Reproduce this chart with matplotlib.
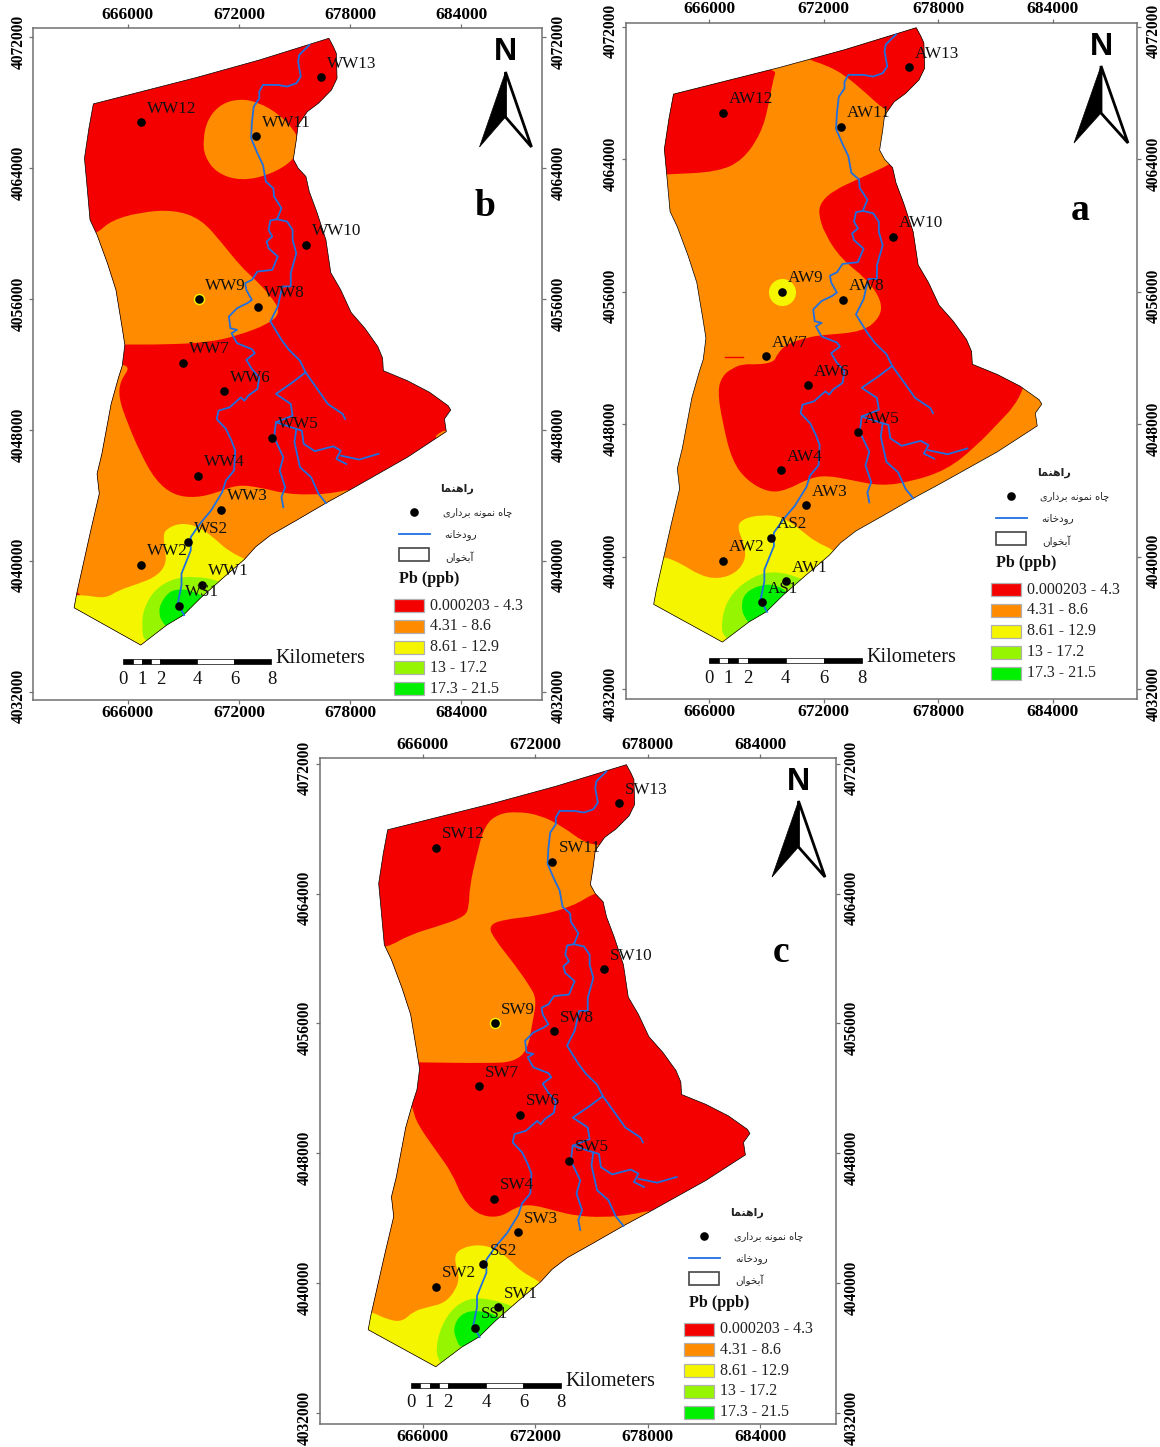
import matplotlib
matplotlib.use('Agg')
import matplotlib.pyplot as plt
from matplotlib.patches import PathPatch, Polygon, Rectangle
from matplotlib.path import Path
from matplotlib.transforms import Affine2D

W, H = 1160, 1447
SERIF = 'Liberation Serif'

# class colours and legend text
class_labels = ['0.000203 - 4.3', '4.31 - 8.6', '8.61 - 12.9', '13 - 17.2', '17.3 - 21.5']
RED, ORANGE, YELLOW, LIME, GREEN = '#f40000', '#ff8c00', '#f5f500', '#96f500', '#00f000'
class_colors = [RED, ORANGE, YELLOW, LIME, GREEN]

# study area boundary, km (easting, northing)
outline_e = [676.86, 677.10, 677.26, 677.30, 677.00, 676.30, 675.70, 675.20, 675.10, 674.94, 675.20, 675.62,
             675.80, 676.20, 676.70, 676.96, 677.50, 678.06, 678.80, 679.50, 679.76, 679.80, 681.10, 682.30,
             683.30, 683.44, 683.10, 683.20, 681.10, 678.10, 676.70, 675.10, 673.70, 672.90, 672.30, 671.10,
             669.90, 669.00, 668.10, 666.70, 663.10, 663.24, 663.60, 664.00, 664.46, 664.34, 664.60, 665.10,
             665.50, 665.70, 665.84, 665.70, 665.36, 664.90, 664.34, 663.96, 663.80, 663.66, 663.90, 664.14,
             669.70, 673.10]
outline_n = [4071.94, 4071.43, 4071.02, 4069.49, 4068.78, 4067.97, 4067.46, 4066.64, 4065.73, 4064.55, 4064.00, 4063.49,
             4062.57, 4061.35, 4059.62, 4057.62, 4056.56, 4055.18, 4054.22, 4053.10, 4052.39, 4051.62, 4051.01, 4050.30,
             4049.48, 4049.22, 4048.67, 4047.90, 4046.33, 4044.40, 4043.53, 4042.47, 4041.56, 4040.85, 4040.09, 4038.91,
             4037.70, 4036.68, 4036.07, 4034.85, 4037.13, 4038.00, 4039.83, 4041.86, 4044.10, 4045.32, 4046.54, 4049.59,
             4051.21, 4051.92, 4053.20, 4054.22, 4056.56, 4058.19, 4059.92, 4060.84, 4062.88, 4064.61, 4066.44, 4067.93,
             4069.54, 4070.61]

# rivers, km
river_main = [(675.80, 4071.53), (675.26, 4070.92), (675.20, 4070.51), (675.34, 4069.60), (675.10, 4069.19),
              (674.60, 4068.99), (674.10, 4069.09), (673.30, 4069.09), (673.10, 4068.68), (673.10, 4068.27),
              (672.80, 4067.76), (672.70, 4066.75), (672.66, 4065.83), (673.00, 4064.91), (673.30, 4064.20),
              (673.46, 4063.18), (673.86, 4062.77), (673.90, 4062.26), (674.30, 4061.55), (674.06, 4060.88)]
river_west = [(674.06, 4060.88), (673.70, 4060.80), (673.60, 4060.23), (673.80, 4059.82), (673.50, 4059.52),
              (673.60, 4059.11), (674.10, 4058.60), (673.80, 4057.78), (673.00, 4057.68), (672.70, 4057.17),
              (672.34, 4056.97), (672.40, 4056.56), (672.70, 4055.95), (672.46, 4055.75), (671.90, 4055.44),
              (671.46, 4054.93), (671.54, 4054.22), (671.90, 4054.12), (671.60, 4053.91), (671.90, 4053.30),
              (672.70, 4052.94), (672.86, 4052.69), (672.40, 4052.29), (672.70, 4051.72), (673.10, 4051.21),
              (673.00, 4050.50), (672.50, 4050.09), (672.30, 4049.79), (672.10, 4049.99), (671.50, 4049.38),
              (670.90, 4049.18), (670.80, 4048.67), (671.30, 4048.06), (671.60, 4047.35), (671.80, 4046.74),
              (671.74, 4045.52), (671.30, 4044.91), (671.10, 4044.20), (670.50, 4043.08), (669.90, 4042.27),
              (669.40, 4041.45), (669.40, 4040.64), (668.90, 4039.22), (668.90, 4038.51), (668.70, 4037.39),
              (669.04, 4036.68)]
river_east = [(674.06, 4060.88), (674.60, 4060.74), (674.90, 4060.23), (674.90, 4059.62), (675.10, 4058.80),
              (674.80, 4057.58), (674.80, 4056.77), (674.34, 4056.77), (674.10, 4055.54), (673.70, 4054.63),
              (674.30, 4053.51), (674.70, 4052.90), (675.30, 4052.23), (675.60, 4051.52)]
river_a = [(675.60, 4051.52), (676.30, 4050.40), (676.80, 4049.59), (677.60, 4048.98), (677.74, 4048.67)]
river_b = [(675.60, 4051.52), (674.90, 4050.91), (674.00, 4050.20), (674.80, 4049.59), (674.90, 4048.87),
           (674.00, 4048.47), (673.90, 4047.55), (674.40, 4046.33), (674.20, 4045.52), (674.50, 4044.50),
           (674.30, 4043.89), (674.40, 4043.28)]
river_c = [(674.00, 4048.47), (675.10, 4048.06), (675.00, 4047.25), (675.30, 4045.72), (675.90, 4045.11),
           (676.30, 4044.10), (676.70, 4043.53)]
river_d = [(675.10, 4048.06), (675.40, 4047.96), (675.50, 4047.15), (676.10, 4046.70), (677.10, 4047.00),
           (677.50, 4046.74), (677.26, 4046.23), (677.80, 4045.92)]
river_e = [(677.50, 4046.43), (678.50, 4046.19), (679.54, 4046.54)]
rivers = [river_main, river_west, river_east, river_a, river_b, river_c, river_d, river_e]

# sampling wells, km
well_e = [676.46, 666.72, 672.92, 675.64, 669.84, 673.02, 668.98, 671.20, 673.80, 669.78, 671.06, 669.24, 666.72, 670.02, 668.78]
well_n = [4069.56, 4066.81, 4065.95, 4059.33, 4056.00, 4055.52, 4052.12, 4050.36, 4047.53, 4045.21, 4043.12, 4041.15, 4039.77, 4038.53, 4037.25]
names_a = ['AW13', 'AW12', 'AW11', 'AW10', 'AW9', 'AW8', 'AW7', 'AW6', 'AW5', 'AW4', 'AW3', 'AS2', 'AW2', 'AW1', 'AS1']
names_b = ['WW13', 'WW12', 'WW11', 'WW10', 'WW9', 'WW8', 'WW7', 'WW6', 'WW5', 'WW4', 'WW3', 'WS2', 'WW2', 'WW1', 'WS1']
names_c = ['SW13', 'SW12', 'SW11', 'SW10', 'SW9', 'SW8', 'SW7', 'SW6', 'SW5', 'SW4', 'SW3', 'SS2', 'SW2', 'SW1', 'SS1']

# concentration zones of map b, km
b_orange_top = [(672.10, 4068.25), (673.10, 4068.00), (674.10, 4067.35), (674.95, 4066.40), (675.25, 4065.63), (675.05, 4064.55),
                (673.70, 4063.60), (672.10, 4063.22), (670.80, 4063.70), (670.15, 4064.71), (670.06, 4065.73), (670.30, 4067.00), (671.05, 4067.95)]
b_orange_mid = [(663.70, 4059.78), (664.34, 4060.02), (665.10, 4060.80), (666.70, 4061.32), (668.50, 4061.45), (669.95, 4060.90),
                (671.10, 4059.41), (672.10, 4057.99), (672.90, 4057.17), (673.75, 4056.15), (674.25, 4055.20), (673.65, 4054.50),
                (671.90, 4053.75), (670.30, 4053.35), (668.10, 4053.22), (665.80, 4053.22), (665.10, 4053.22), (664.10, 4056.00)]
b_orange_low = [(665.10, 4052.20), (665.70, 4052.02), (666.10, 4051.78), (665.60, 4051.01), (665.50, 4049.99), (666.00, 4048.37),
                (666.70, 4046.54), (667.50, 4044.91), (668.50, 4044.00), (669.70, 4043.85), (670.90, 4044.20), (671.90, 4044.65),
                (673.10, 4044.50), (674.50, 4044.10), (675.90, 4044.04), (677.10, 4044.14), (678.10, 4044.40), (678.70, 4044.10),
                (679.10, 4042.50), (673.10, 4038.00), (663.10, 4036.00), (662.10, 4044.00)]
b_orange_tip = [(682.50, 4047.50), (682.90, 4047.90), (683.30, 4048.00), (683.30, 4047.30)]
b_yellow = [(667.90, 4041.45), (668.06, 4041.96), (668.90, 4042.33), (669.90, 4042.06), (670.70, 4041.35), (671.50, 4040.54),
            (672.50, 4040.03), (673.50, 4039.20), (669.10, 4033.90), (666.70, 4034.10), (662.70, 4036.80), (662.80, 4037.90),
            (663.70, 4037.90), (664.80, 4037.70), (665.50, 4038.20), (666.50, 4038.57), (667.50, 4039.01), (668.06, 4039.73), (668.04, 4040.64)]
b_lime = [(670.90, 4038.81), (669.70, 4039.05), (668.50, 4038.95), (667.45, 4038.25), (666.85, 4037.08), (666.75, 4035.96),
          (666.90, 4034.90), (669.10, 4034.94), (672.00, 4038.00)]
b_green = [(668.90, 4038.28), (668.25, 4038.15), (667.75, 4037.39), (667.68, 4036.78), (667.85, 4036.25), (668.26, 4035.80),
           (670.30, 4036.80), (670.50, 4037.60), (669.50, 4038.15)]

# zones of map a, km
a_red_nw = [(669.58, 4069.58), (669.35, 4068.77), (669.11, 4067.16), (668.72, 4065.55), (667.77, 4063.94), (666.44, 4063.23),
            (663.85, 4063.09), (663.01, 4063.03), (663.01, 4067.56), (664.15, 4069.58)]
a_red_ne = [(671.01, 4070.08), (672.15, 4069.68), (673.11, 4069.08), (674.25, 4067.97), (675.20, 4066.96), (676.15, 4066.56),
            (678.06, 4069.58), (678.06, 4072.60), (675.01, 4072.60), (671.01, 4071.00)]
a_red_mid = [(675.96, 4063.94), (673.87, 4062.83), (672.53, 4062.12), (671.87, 4061.42), (671.73, 4060.71), (672.06, 4059.50),
             (672.92, 4057.99), (674.25, 4056.78), (675.05, 4055.47), (674.98, 4054.46), (674.06, 4053.58), (671.96, 4053.39),
             (671.20, 4053.25), (670.06, 4052.85), (669.58, 4052.24), (669.39, 4051.74), (668.53, 4051.60), (667.77, 4051.64),
             (667.20, 4051.36), (666.72, 4050.95), (666.44, 4050.05), (666.72, 4048.04), (667.20, 4045.83), (667.96, 4044.62),
             (669.11, 4043.88), (670.06, 4044.02), (671.20, 4044.72), (672.15, 4044.92), (673.49, 4044.62), (675.01, 4044.28),
             (676.53, 4044.52), (678.44, 4045.23), (679.96, 4046.63), (681.30, 4048.24), (681.96, 4049.05), (682.44, 4050.05),
             (682.63, 4050.85), (680.73, 4052.86), (680.73, 4057.90), (677.87, 4065.90)]
a_yellow = [(667.49, 4041.71), (667.68, 4042.25), (668.72, 4042.55), (669.87, 4042.41), (670.82, 4041.61), (671.58, 4040.90),
            (672.57, 4040.40), (673.49, 4039.40), (669.30, 4034.57), (666.72, 4034.17), (662.63, 4036.98), (662.82, 4040.00),
            (663.68, 4040.00), (664.53, 4039.60), (665.49, 4038.89), (666.44, 4038.65), (667.39, 4038.99), (667.92, 4039.80), (667.87, 4040.70)]
a_lime = [(670.91, 4038.69), (669.49, 4039.15), (668.34, 4038.85), (667.15, 4037.79), (666.65, 4036.38), (666.72, 4034.87),
          (669.30, 4034.57), (672.15, 4037.79)]
a_green = [(668.72, 4038.32), (667.90, 4037.85), (667.68, 4037.09), (667.82, 4036.38), (668.25, 4035.80), (670.06, 4036.38),
           (670.25, 4037.79), (669.49, 4038.32)]

# zones of map c, km
c_orange_main = [(675.38, 4063.93), (675.14, 4064.03), (673.99, 4063.21), (672.22, 4062.64), (670.24, 4062.39), (669.50, 4062.00),
                 (669.85, 4061.16), (670.84, 4059.73), (671.72, 4058.29), (672.08, 4057.47), (671.85, 4056.04), (671.60, 4054.35),
                 (670.84, 4053.62), (669.45, 4053.55), (665.76, 4053.60), (665.11, 4053.62), (663.14, 4057.68), (663.14, 4060.75),
                 (664.09, 4060.65), (665.31, 4061.47), (667.09, 4062.08), (668.27, 4062.60), (668.47, 4063.21), (668.51, 4064.44),
                 (668.86, 4066.28), (669.30, 4068.20), (670.05, 4068.92), (671.03, 4069.05), (672.22, 4068.85), (673.40, 4068.18),
                 (674.78, 4067.00), (675.97, 4067.00), (676.17, 4064.03)]
c_orange_low = [(665.31, 4051.28), (665.47, 4050.77), (665.70, 4049.84), (666.69, 4048.20), (667.58, 4046.77), (668.07, 4045.34),
                (668.86, 4044.25), (670.05, 4044.00), (671.03, 4044.72), (671.82, 4044.85), (673.20, 4044.41), (674.19, 4044.15),
                (675.57, 4044.05), (677.15, 4044.21), (678.23, 4044.52), (678.93, 4044.11), (674.19, 4039.60), (663.14, 4035.50),
                (662.35, 4043.70), (664.72, 4051.28)]
c_yellow = [(667.68, 4041.44), (667.88, 4042.06), (668.86, 4042.40), (669.85, 4042.16), (670.64, 4041.44), (671.23, 4040.73),
            (672.22, 4040.11), (673.20, 4039.19), (668.27, 4033.86), (666.69, 4033.86), (662.35, 4037.14), (662.94, 4038.27),
            (663.33, 4038.21), (664.12, 4037.76), (664.91, 4037.61), (665.51, 4038.27), (666.30, 4038.53), (667.19, 4038.78),
            (667.78, 4039.60), (667.97, 4040.42)]
c_lime = [(670.84, 4038.57), (669.65, 4039.02), (668.47, 4039.10), (667.42, 4038.30), (666.72, 4036.53), (666.80, 4034.99),
          (668.27, 4034.27), (672.22, 4037.96)]
c_green = [(668.86, 4038.36), (668.02, 4038.10), (667.62, 4037.24), (667.82, 4036.42), (668.07, 4035.95), (670.24, 4036.73), (670.24, 4037.96)]

x_ticks = [666000, 672000, 678000, 684000]
y_ticks = [4032000, 4040000, 4048000, 4056000, 4064000, 4072000]
scale_ticks = [0, 1, 2, 4, 6, 8]
scale_blocks = [(0, 0.5, 'k'), (0.5, 1, 'w'), (1, 1.5, 'k'), (1.5, 2, 'w'), (2, 4, 'k'), (4, 6, 'w'), (6, 8, 'k')]

# legend text in Persian
legend_title = 'راهنما'
legend_well = 'چاه نمونه برداری'
legend_river = 'رودخانه'
legend_aquifer = 'آبخوان'

# (isolated, final, initial, medial) glyphs, matplotlib does no Arabic shaping itself
FORMS = {'ا': '\uFE8D\uFE8E', 'آ': '\uFE81\uFE82', 'ب': '\uFE8F\uFE90\uFE91\uFE92', 'چ': '\uFB7A\uFB7B\uFB7C\uFB7D',
         'خ': '\uFEA5\uFEA6\uFEA7\uFEA8', 'د': '\uFEA9\uFEAA', 'ر': '\uFEAD\uFEAE', 'م': '\uFEE1\uFEE2\uFEE3\uFEE4',
         'ن': '\uFEE5\uFEE6\uFEE7\uFEE8', 'ه': '\uFEE9\uFEEA\uFEEB\uFEEC', 'و': '\uFEED\uFEEE', 'ی': '\uFBFC\uFBFD\uFBFE\uFBFF'}


def shape(text):
    out = []
    for i, c in enumerate(text):
        if c not in FORMS:
            out.append(c)
            continue
        before = i > 0 and text[i - 1] in FORMS and len(FORMS[text[i - 1]]) == 4
        after = i + 1 < len(text) and text[i + 1] in FORMS and len(FORMS[c]) == 4
        idx = 3 if before and after else 1 if before else 2 if after else 0
        out.append(FORMS[c][idx])
    return ''.join(reversed(out))


def smooth_patch(points, color, clip):
    pts = [(x * 1000, y * 1000) for x, y in points]
    mids = [((pts[i][0] + pts[(i + 1) % len(pts)][0]) / 2, (pts[i][1] + pts[(i + 1) % len(pts)][1]) / 2) for i in range(len(pts))]
    verts = [mids[-1]]
    codes = [Path.MOVETO]
    for p, m in zip(pts, mids):
        verts += [p, m]
        codes += [Path.CURVE3, Path.CURVE3]
    patch = PathPatch(Path(verts, codes), facecolor=color, edgecolor='none', zorder=2)
    clip.axes.add_patch(patch)
    patch.set_clip_path(clip)


fig = plt.figure(figsize=(W / 100, H / 100), dpi=100)
# pixel coordinates of the page, y going down
px = Affine2D().scale(1, -1).translate(0, H)


def draw_panel(frame, tick_x, tick_y, base, zones, names, ring, letter, north, legend, bar):
    left, top, right, bottom = frame
    ax = fig.add_axes([left / W, 1 - bottom / H, (right - left) / W, (bottom - top) / H])
    per_x = 18000 / (tick_x[1] - tick_x[0])
    per_y = 40000 / (tick_y[1] - tick_y[0])
    ax.set_xlim(666000 + (left - tick_x[0]) * per_x, 666000 + (right - tick_x[0]) * per_x)
    ax.set_ylim(4072000 - (bottom - tick_y[0]) * per_y, 4072000 - (top - tick_y[0]) * per_y)

    ax.set_xticks(x_ticks, [str(v) for v in x_ticks], fontfamily=SERIF, fontweight='bold', fontsize=12.5)
    ax.set_yticks(y_ticks, [str(v) for v in y_ticks], fontfamily=SERIF, fontweight='bold', fontsize=11.2, rotation=90, va='center')
    ax.tick_params(top=True, right=True, labeltop=True, labelright=True, length=3, width=0.9, color='#707070', pad=3.5)
    ax.tick_params(axis='x', pad=0.8)
    # y labels sit a little below their ticks in the original
    for tick in ax.yaxis.get_major_ticks():
        tick.label1.set_transform(tick.label1.get_transform() + Affine2D().translate(2, -4.5))
        tick.label2.set_transform(tick.label2.get_transform() + Affine2D().translate(-0.5, -4.5))
    for s in ax.spines.values():
        s.set_color('#707070')
        s.set_linewidth(1.1)

    # map area and zones
    boundary = [(e * 1000, n * 1000) for e, n in zip(outline_e, outline_n)]
    area = Polygon(boundary, closed=True, facecolor=base, edgecolor='none', zorder=1)
    ax.add_patch(area)
    for pts, color in zones:
        smooth_patch(pts, color, area)
    ax.add_patch(Polygon(boundary, closed=True, fill=False, edgecolor='k', linewidth=0.5, zorder=3))

    for r in rivers:
        ax.plot([p[0] * 1000 for p in r], [p[1] * 1000 for p in r], color='#1f6fe0', lw=1.3, zorder=4)

    e = [v * 1000 for v in well_e]
    n = [v * 1000 for v in well_n]
    ax.plot(e[4], n[4], 'o', color=YELLOW, ms=ring, mew=0, zorder=5)
    ax.plot(e, n, 'o', color='k', ms=6.2, mew=0, zorder=6)
    for name, xx, yy in zip(names, e, n):
        ax.annotate(name, (xx, yy), xytext=(4.3, 9.7), textcoords='offset points', fontsize=12.3,
                    family=SERIF, va='center', ha='left', color='#111111', zorder=7)

    # panel letter
    ax.text(letter[1], letter[2], letter[0], transform=px, fontsize=27, family=SERIF, fontweight='bold',
            ha='center', va='center', zorder=8)

    # north arrow
    nx, ny, apex, base_y, notch, half = north
    ax.text(nx, ny, 'N', transform=px, fontsize=23, family='Liberation Sans', fontweight='bold', ha='center', va='center', zorder=8)
    ax.add_patch(Polygon([(nx, apex), (nx + half, base_y), (nx, notch)], closed=True, facecolor='w', edgecolor='k',
                         linewidth=2, transform=px, zorder=8, joinstyle='miter'))
    ax.add_patch(Polygon([(nx, apex), (nx - half, base_y), (nx, notch)], closed=True, facecolor='k', edgecolor='k',
                         linewidth=0.5, transform=px, zorder=8))

    # legend
    x0, y0, step = legend
    fa = ['DejaVu Sans']
    ax.text(x0 + 63, y0 - 110, shape(legend_title), transform=px, fontsize=8, family=fa, fontweight='bold', ha='center', va='center', color='#222222')
    ax.plot([x0 + 20], [y0 - 87], 'o', color='k', ms=6.2, mew=0, transform=px, clip_on=False)
    ax.text(x0 + 84, y0 - 87, shape(legend_well), transform=px, fontsize=7, family=fa, ha='center', va='center', color='#222222')
    ax.plot([x0 + 5, x0 + 36], [y0 - 65, y0 - 65], color='#1f6fe0', lw=1.3, transform=px, clip_on=False)
    ax.text(x0 + 67, y0 - 64, shape(legend_river), transform=px, fontsize=7.5, family=fa, ha='center', va='center', color='#222222')
    ax.add_patch(Rectangle((x0 + 5, y0 - 51), 30, 13, facecolor='w', edgecolor='#444444', linewidth=1.2, transform=px, clip_on=False))
    ax.text(x0 + 65, y0 - 42, shape(legend_aquifer), transform=px, fontsize=7.5, family=fa, ha='center', va='center', color='#222222')
    ax.text(x0 + 5, y0 - 20, 'Pb (ppb)', transform=px, fontsize=11.5, family=SERIF, fontweight='bold', ha='left', va='center', color='#111111')
    for i, (lab, col) in enumerate(zip(class_labels, class_colors)):
        ax.add_patch(Rectangle((x0, y0 + i * step), 30, 13, facecolor=col, edgecolor='#b0b0b0', linewidth=0.9, transform=px, clip_on=False))
        ax.text(x0 + 36, y0 + i * step + 6.5, lab, transform=px, fontsize=11.5, family=SERIF, ha='left', va='center', color='#222222')

    # scale bar, drawn in map units
    bx, by = bar
    for a, b, col in scale_blocks:
        ax.add_patch(Rectangle((bx + a * 1000, by - 140), (b - a) * 1000, 280, facecolor=col, edgecolor='k', linewidth=0.5, zorder=5))
    for v in scale_ticks:
        ax.annotate(str(v), (bx + v * 1000, by), xytext=(0, -12.5), textcoords='offset points', fontsize=13.5,
                    family=SERIF, ha='center', va='center', color='#111111')
    ax.annotate('Kilometers', (bx + 8000, by), xytext=(3, 2.5), textcoords='offset points', fontsize=14.6,
                family=SERIF, ha='left', va='center', color='#111111')


draw_panel((33.3, 28.3, 541.9, 700), (127.8, 461.1), (37.3, 691.7), RED,
           [(b_orange_top, ORANGE), (b_orange_mid, ORANGE), (b_orange_low, ORANGE), (b_orange_tip, ORANGE),
            (b_yellow, YELLOW), (b_lime, LIME), (b_green, GREEN)],
           names_b, 8.2, ('b', 485, 206), (505.5, 52, 72, 147, 117, 26), (394, 599, 20.8), (665760, 4033830))

draw_panel((625.6, 22.7, 1137, 699), (709, 1052.5), (26.7, 689.3), ORANGE,
           [(a_red_nw, RED), (a_red_ne, RED), (a_red_mid, RED), (a_yellow, YELLOW), (a_lime, LIME), (a_green, GREEN)],
           names_a, 19.5, ('a', 1080, 210), (1101, 47, 66, 143, 113, 27), (991, 583, 20.9), (666020, 4033730))
fig.axes[-1].plot([666820, 667770], [4052040, 4052040], color=RED, lw=1, zorder=3)

draw_panel((319.6, 758.3, 835.5, 1424), (422.6, 760.4), (763.7, 1413), RED,
           [(c_orange_main, ORANGE), (c_orange_low, ORANGE), (c_yellow, YELLOW), (c_lime, LIME), (c_green, GREEN)],
           names_c, 8.2, ('c', 781, 953), (798.5, 782, 801, 877, 847, 26.5), (684.4, 1322.7, 20.7), (665370, 4033700))

plt.savefig('out.png', dpi=100)
